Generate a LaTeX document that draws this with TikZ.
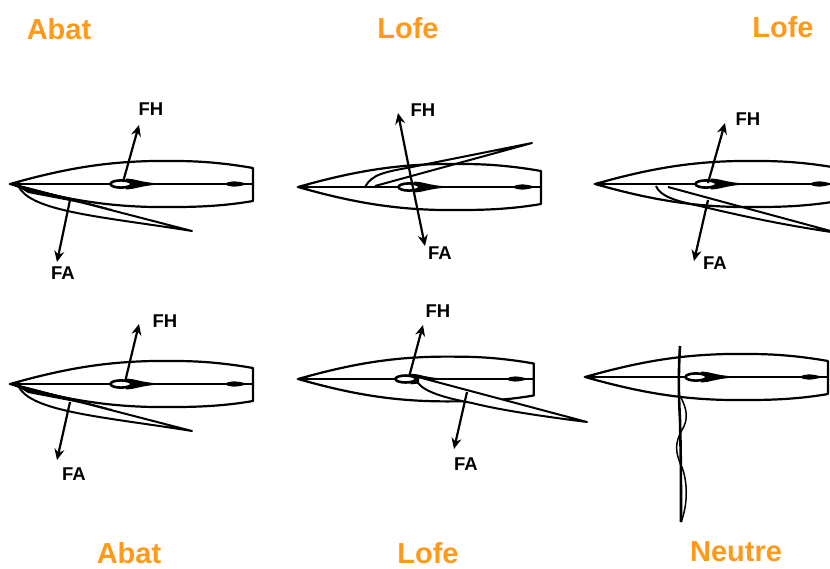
\documentclass[tikz,border=0pt]{standalone}
\usepackage{fontspec}
\setmainfont{Liberation Sans}
\usetikzlibrary{arrows.meta}
\definecolor{titleorange}{RGB}{255,153,26}
\tikzset{
  hulldecorate/.style={line width=2.2pt,line join=round},
  axisdecorate/.style={line width=1.7pt},
  saildecorate/.style={line width=2pt,line join=round},
  forcedecorate/.style={-{Stealth[length=11pt,width=10pt]},line width=2.2pt},
  forcelabel/.style={font=\fontsize{18.5pt}{20pt}\selectfont\bfseries,inner sep=0pt},
  titlelabel/.style={font=\fontsize{29pt}{30pt}\selectfont\bfseries,text=titleorange,inner sep=0pt},
  pics/hull/.style={code={
    \draw[hulldecorate] (0,0) .. controls (60,-17) and (105,-24) .. (165,-23)
      .. controls (195,-23) and (220,-20) .. (243,-16) -- (243,17)
      .. controls (220,21) and (195,23) .. (165,23)
      .. controls (105,24) and (60,17) .. (0,0) -- cycle;
    \draw[axisdecorate] (0,0) -- (243,0);
    \fill (-2,0) -- (8,-2.2) -- (14,0) -- (8,2.2) -- cycle;
    \fill (116,-5.5) .. controls (124,-5.5) and (130,-2) .. (146,-0.8) -- (146,0.8)
      .. controls (130,2) and (124,5.5) .. (116,5.5) -- cycle;
    \fill[white,draw=black,line width=2.6pt] (111,0) ellipse (10.5 and 3.6);
    \fill (214,0) .. controls (220,-3.5) and (226,-3.5) .. (238,0)
      .. controls (226,3.5) and (220,3.5) .. (214,0) -- cycle;
  }}
}
\begin{document}
\begin{tikzpicture}[x=1pt,y=-1pt]
\useasboundingbox (0,0) rectangle (830,568);
\clip (0,0) rectangle (830,568);
%% hulls
\foreach \hullname/\x/\y/\hullscale in {abattop/10/184/1, lofetop/298/187/1,
  loferight/595/184/1, abatlow/10/384/1, lofelow/298/379/0.97, neutre/585/377/1} {
  \pic (\hullname) at (\x,\y) [xscale=\hullscale,yscale=\hullscale] {hull};
}
%% sails
\draw[saildecorate,fill=white] (14,185) -- (192,231)
  .. controls (105,217) and (32,212) .. (19,187) -- cycle;
\fill (12,183) -- (112,209) -- (28,193) -- cycle;
\draw[saildecorate,fill=white] (14,385) -- (192,431)
  .. controls (105,417) and (32,412) .. (19,387) -- cycle;
\fill (12,383) -- (112,409) -- (28,393) -- cycle;
\draw[saildecorate] (375,186) -- (532,143) -- (412,167)
  .. controls (385,172) and (372,174) .. (365,187);
\draw[saildecorate] (668,187) -- (838,233)
  .. controls (790,226) and (750,218) .. (700,206)
  .. controls (675,201) and (660,196) .. (656,186);
\draw[saildecorate,fill=white] (418,377) -- (587,422)
  .. controls (540,416) and (500,410) .. (472,403)
  .. controls (445,398) and (425,392) .. (418,383) -- cycle;
%% luffing sail
\draw[line width=2.6pt] (680,346) .. controls (678,380) and (679,400) .. (680,420)
  .. controls (681,460) and (681,490) .. (681,522);
\draw[line width=1.5pt] (680,396) .. controls (688,410) and (688,420) .. (682,430)
  .. controls (675,442) and (675,452) .. (681,465)
  .. controls (688,480) and (688,505) .. (681,522);
%% forces and labels
\foreach \forcename/\fx/\fy/\tx/\ty/\lx/\ly/\labeltext in {
  abattopfh/123/182/139/125/151/109/FH, abattopfa/70/200/57/262/63/273/FA,
  lofetopfh/412/183/398/113/423/110/FH, lofetopfa/412/183/425/246/440/253/FA,
  loferightfh/708/183/725/123/748/119/FH, loferightfa/708/200/694/261/715/263/FA,
  abatlowfh/125/382/139/324/165/321/FH, abatlowfa/70/402/57/460/74/474/FA,
  lofelowfh/409/377/423/325/438/311/FH, lofelowfa/467/392/454/449/466/464/FA} {
  \coordinate (\forcename foot) at (\fx,\fy);
  \coordinate (\forcename tip) at (\tx,\ty);
  \node (\forcename) at (\lx,\ly) [forcelabel] {\labeltext};
  \draw[forcedecorate] (\forcename foot) -- (\forcename tip);
}
%% titles
\foreach \titlename/\x/\y/\titletext in {titlea/59/29/Abat, titleb/408/28/Lofe,
  titlec/783/27/Lofe, titled/129/553/Abat, titlee/428/553/Lofe, titlef/736/552/Neutre} {
  \node (\titlename) at (\x,\y) [titlelabel] {\titletext};
}
\end{tikzpicture}
\end{document}
